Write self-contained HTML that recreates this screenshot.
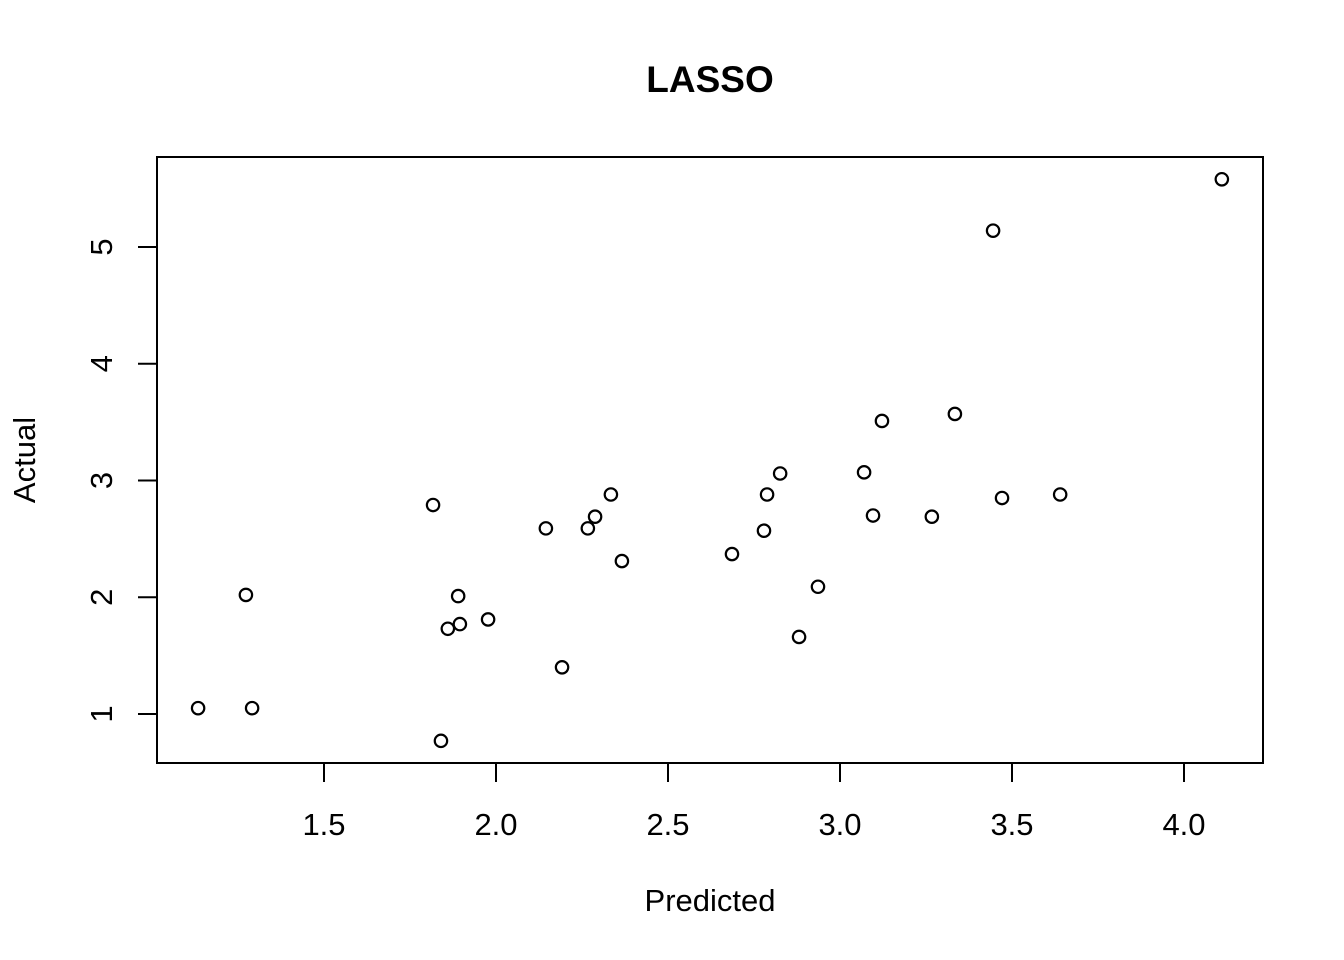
<!DOCTYPE html>
<html><head><meta charset="utf-8"><style>
html,body{margin:0;padding:0;background:#fff;}
svg{display:block;font-family:"Liberation Sans",Arial,sans-serif;}
</style></head><body>
<svg id="chart" width="1344" height="960" viewBox="0 0 1344 960">
<text x="710" y="92" text-anchor="middle" font-size="37" font-weight="bold">LASSO</text>
<rect x="157" y="157" width="1106" height="606" fill="none" stroke="#000" stroke-width="2"/>
<g id="xaxis"></g>
<g id="yaxis"></g>
<g id="points"></g>
<text x="710" y="911" text-anchor="middle" font-size="31">Predicted</text>
<text transform="translate(35,460) rotate(-90)" text-anchor="middle" font-size="31">Actual</text>
</svg>
<script>
const predicted = [1.134,1.273,1.291,1.817,1.840,1.860,1.890,1.895,1.977,2.145,2.192,2.267,2.288,2.334,2.366,2.686,2.779,2.788,2.826,2.881,2.936,3.070,3.096,3.122,3.267,3.334,3.445,3.471,3.640,4.110];
const actual = [1.05,2.02,1.05,2.79,0.77,1.73,2.01,1.77,1.81,2.59,1.40,2.59,2.69,2.88,2.31,2.37,2.57,2.88,3.06,1.66,2.09,3.07,2.70,3.51,2.69,3.57,5.14,2.85,2.88,5.58];
const xTicks = [1.5,2.0,2.5,3.0,3.5,4.0];
const xTickLabels = ["1.5","2.0","2.5","3.0","3.5","4.0"];
const yTicks = [1,2,3,4,5];
const yTickLabels = ["1","2","3","4","5"];

const NS = "http://www.w3.org/2000/svg";
function xs(v){ return 496 + (v - 2) * 344; }
function ys(v){ return 714 - (v - 1) * 116.75; }
function mk(tag, attrs, parent){ const e = document.createElementNS(NS, tag); for (const k in attrs) e.setAttribute(k, attrs[k]); parent.appendChild(e); return e; }

const xa = document.getElementById('xaxis');
xTicks.forEach((t, i) => {
  const l = mk('line', {x1: xs(t), x2: xs(t), y1: 763, y2: 782, stroke: '#000', 'stroke-width': 2}, xa);
  
  
  const tx = mk('text', {x: xs(t), y: 835, 'text-anchor': 'middle', 'font-size': 31}, xa);
  tx.textContent = xTickLabels[i];
  
  
});
const ya = document.getElementById('yaxis');
yTicks.forEach((t, i) => {
  const l = mk('line', {x1: 138, x2: 157, y1: ys(t), y2: ys(t), stroke: '#000', 'stroke-width': 2}, ya);
  
  
  const tx = mk('text', {transform: 'translate(112,' + ys(t) + ') rotate(-90)', 'text-anchor': 'middle', 'font-size': 31}, ya);
  tx.textContent = yTickLabels[i];
  
  
});
const pg = document.getElementById('points');
predicted.forEach((p, i) => {
  const c = mk('circle', {cx: xs(p), cy: ys(actual[i]), r: 6.2, fill: 'none', stroke: '#000', 'stroke-width': 2.2}, pg);
  
  
});
</script>
</body></html>
